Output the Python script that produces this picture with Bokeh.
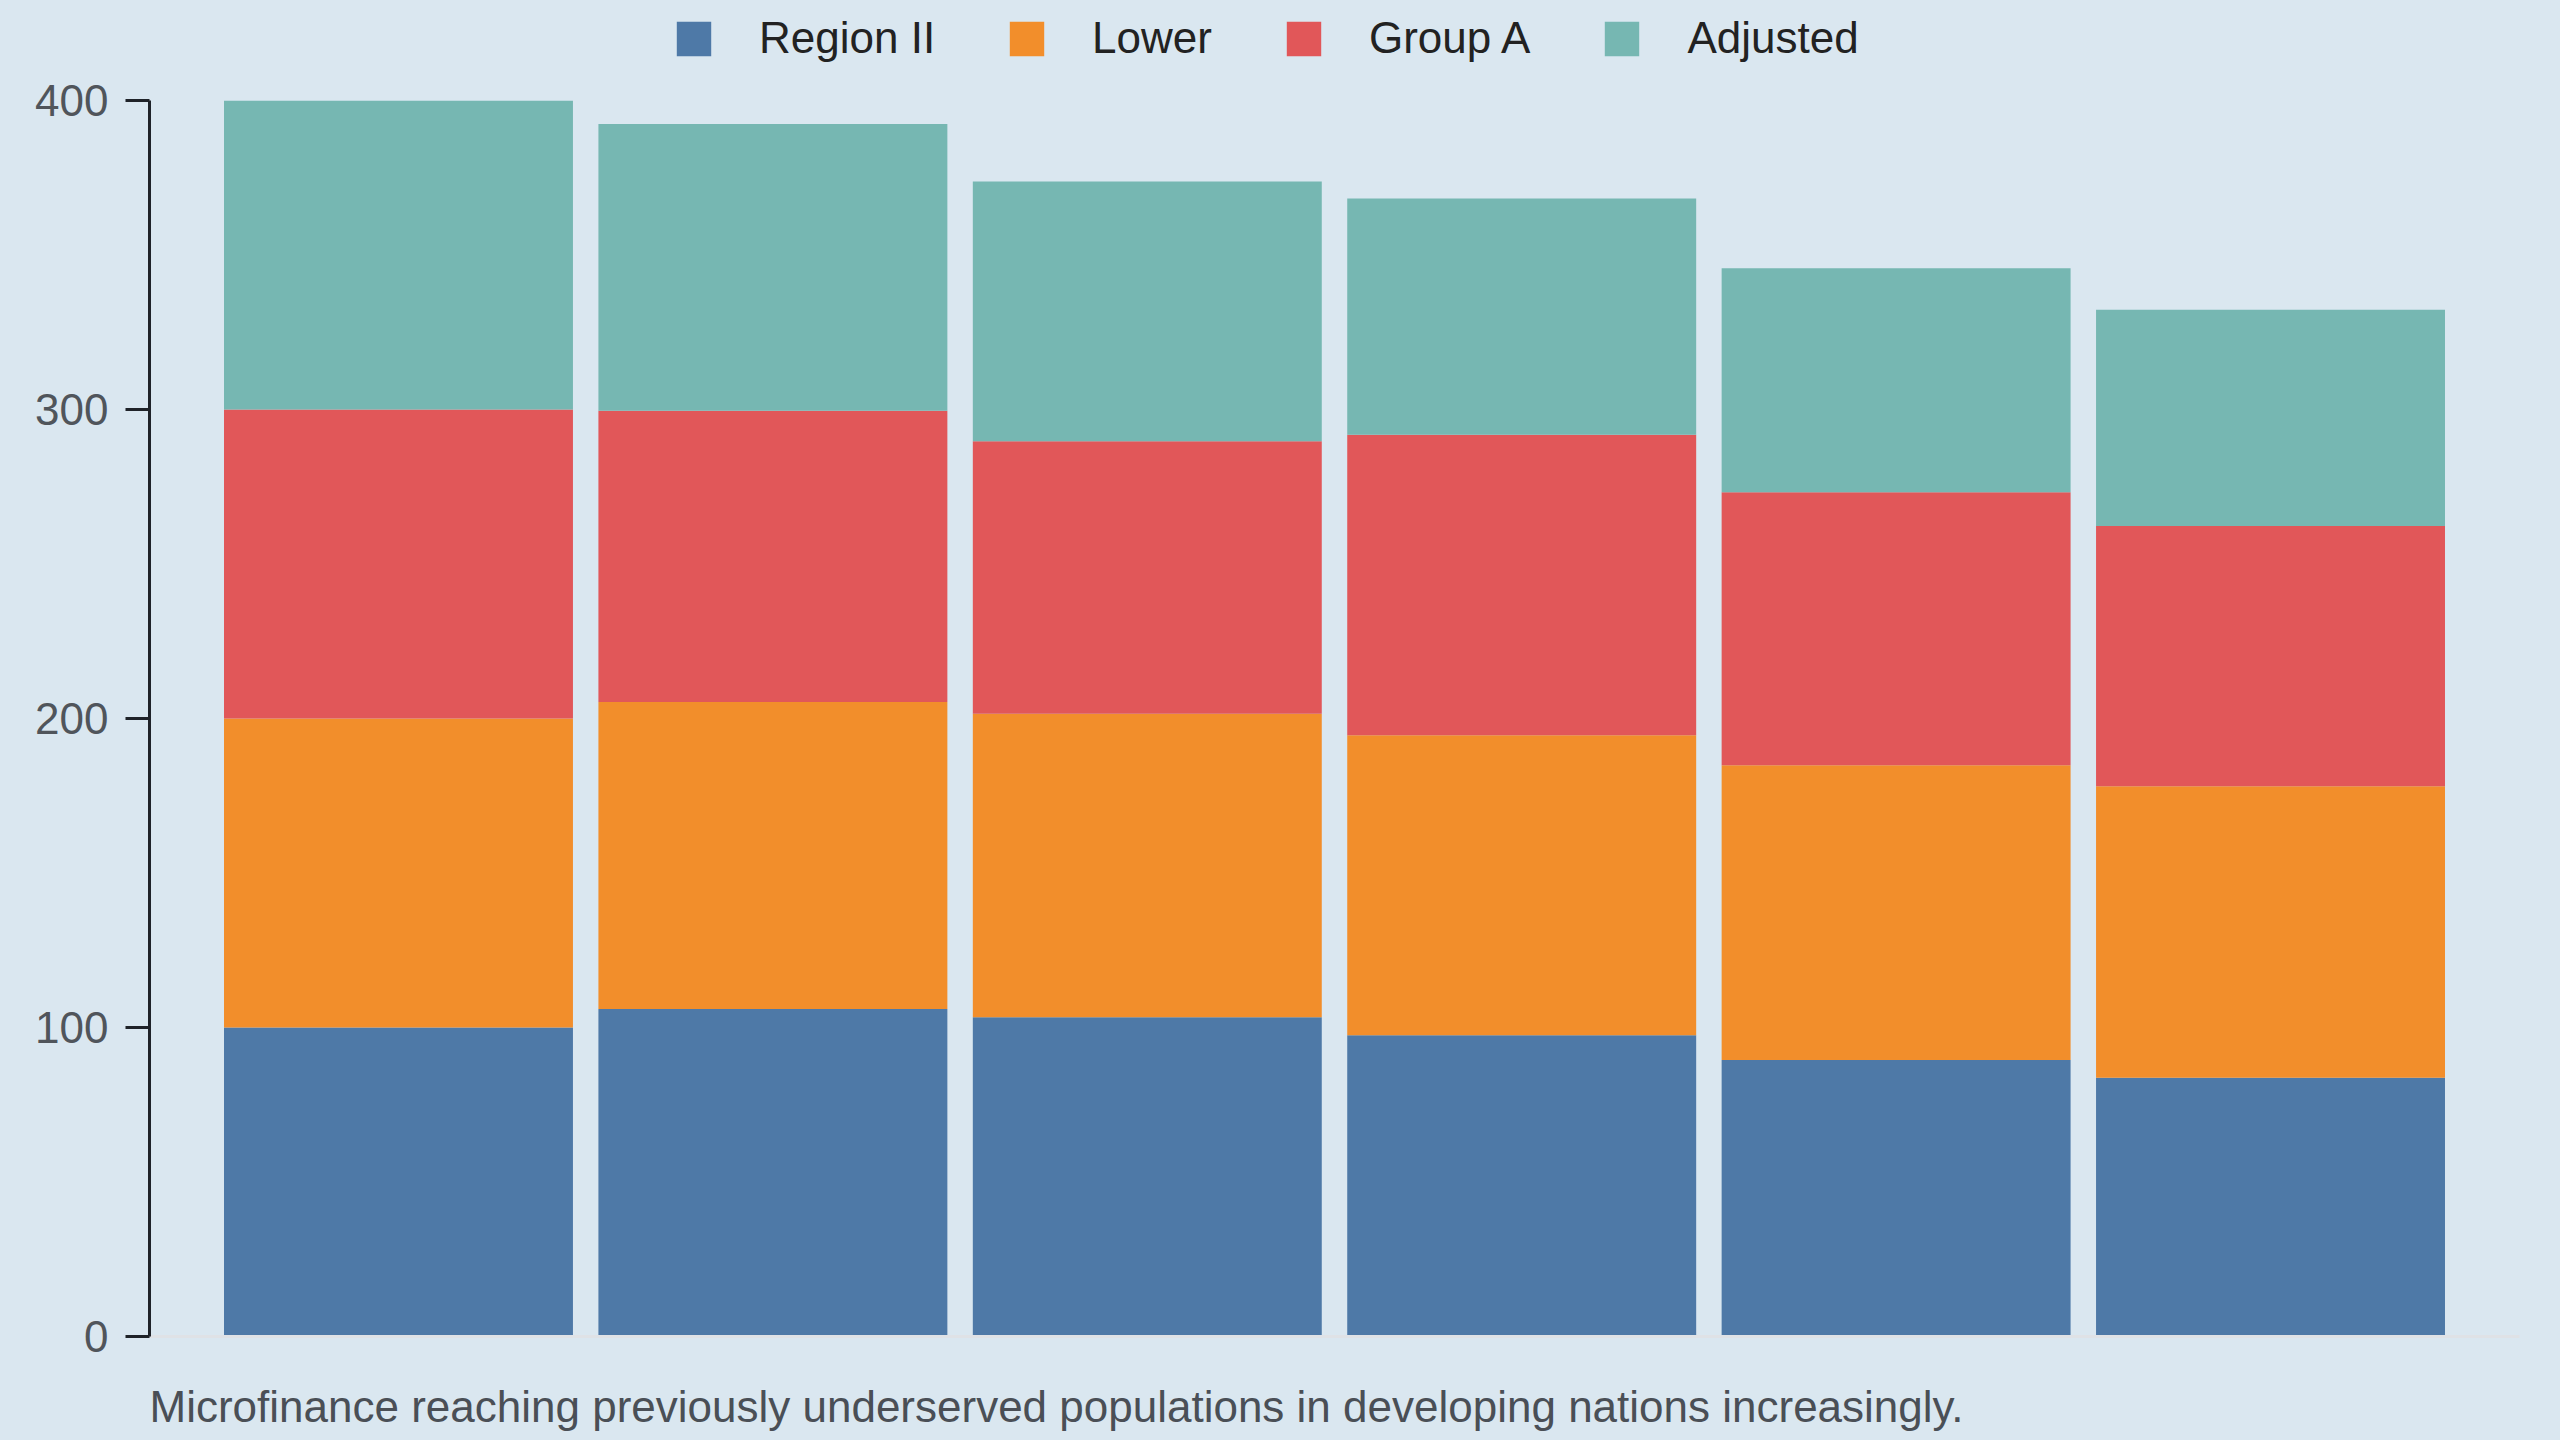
from bokeh.plotting import figure
from bokeh.layouts import column
from bokeh.models import (ColumnDataSource, Range1d, Legend, LegendItem, Label,
                          FixedTicker, GlobalInlineStyleSheet)
from bokeh.embed import file_html
from bokeh.resources import INLINE

# ---- data ----
series_names = ["Region II", "Lower", "Group A", "Adjusted"]
region_ii = [100.0, 106.0, 103.3, 97.5, 89.5, 83.7]
lower = [100.0, 99.3, 98.2, 97.1, 95.4, 94.4]
group_a = [100.0, 94.3, 88.2, 97.2, 88.3, 84.2]
adjusted = [100.0, 92.8, 84.1, 76.5, 72.5, 70.0]
y_ticks = [0, 100, 200, 300, 400]
caption = "Microfinance reaching previously underserved populations in developing nations increasingly."

colors = ["#4e79a7", "#f28e2b", "#e15759", "#76b7b2"]
BG = "#dae7f0"
FONT = "Liberation Sans"
W = 2560
LEG_H = 66
CAP_H = 74
stackers = ["s0", "s1", "s2", "s3"]


def strip_figure(height):
    f = figure(width=W, height=height, output_backend="svg", toolbar_location=None,
               x_range=Range1d(0, W), y_range=Range1d(0, height),
               x_axis_type=None, y_axis_type=None, min_border=0)
    f.background_fill_color = BG
    f.border_fill_color = BG
    f.outline_line_color = None
    f.xgrid.visible = False
    f.ygrid.visible = False
    return f


# ---- main chart ----
n = len(region_ii)
source = ColumnDataSource(dict(
    x=list(range(n)),
    s0=region_ii, s1=lower, s2=group_a, s3=adjusted,
))

p = figure(width=W, height=1440 - LEG_H - CAP_H, output_backend="svg", toolbar_location=None,
           x_range=Range1d(-0.665, n - 1 + 0.665), y_range=Range1d(0, 400),
           min_border_left=149, min_border_right=41,
           min_border_top=100 - LEG_H, min_border_bottom=1440 - CAP_H - 1336)
p.background_fill_color = BG
p.border_fill_color = BG
p.outline_line_color = None
p.xgrid.visible = False
p.ygrid.visible = False

p.vbar_stack(stackers, x="x", width=0.932, color=colors, line_color=None, source=source)

yax = p.yaxis[0]
yax.ticker = FixedTicker(ticks=y_ticks)
yax.axis_line_color = "#1f2329"
yax.axis_line_width = 3
yax.major_tick_line_color = "#1f2329"
yax.major_tick_line_width = 3
yax.major_tick_out = 24
yax.major_tick_in = 0
yax.minor_tick_line_color = None
yax.major_label_standoff = 17
yax.major_label_text_font = FONT
yax.major_label_text_font_size = "44px"
yax.major_label_text_color = "#50555b"

xax = p.xaxis[0]
xax.ticker = FixedTicker(ticks=[])
xax.axis_line_color = "#dfe2e6"
xax.axis_line_width = 3
xax.major_tick_line_color = None
xax.minor_tick_line_color = None
xax.major_tick_out = 0
xax.major_tick_in = 0
xax.major_label_standoff = 0
xax.major_label_text_font_size = "0px"

# ---- legend strip (hidden proxy renderers of the same data) ----
leg = strip_figure(LEG_H)
proxies = leg.vbar_stack(stackers, x="x", width=0.932, color=colors, line_color=None, source=source)
for r in proxies:
    r.visible = False
items = [LegendItem(label=name, renderers=[r]) for name, r in zip(series_names, proxies)]
legend = Legend(items=items, orientation="horizontal", location=(523, 3),
                glyph_width=43, glyph_height=43, label_standoff=44, spacing=70,
                label_text_font=FONT, label_text_font_size="44px", label_text_color="#222222",
                padding=0, margin=0, background_fill_alpha=0, border_line_color=None,
                inactive_fill_alpha=0)
leg.add_layout(legend)

# ---- caption strip ----
capf = strip_figure(CAP_H)
capf.add_layout(Label(x=0, y=34, x_units="screen", text=caption, text_font=FONT,
                      text_font_size="44px", text_color="#4a4f56",
                      text_baseline="alphabetic", text_align="left"))

layout = column(leg, p, capf, spacing=0)
layout.stylesheets = [GlobalInlineStyleSheet(css="body { background-color: %s; }" % BG)]

open("out.html", "w").write(file_html(layout, INLINE))
